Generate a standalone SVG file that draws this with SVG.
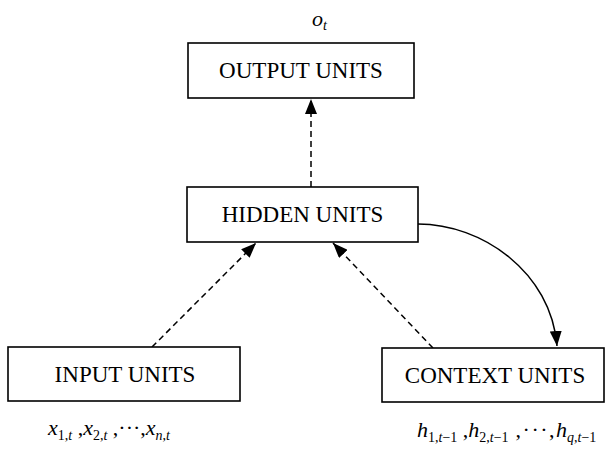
<svg xmlns="http://www.w3.org/2000/svg" width="607" height="458" viewBox="0 0 607 458">
<defs>
<style>
.box{fill:#fff;stroke:#000;stroke-width:1.6}
.lbl{font-family:"Liberation Serif","Times New Roman",serif;font-size:23px;fill:#000;text-anchor:middle}
.m{font-family:"Liberation Serif","Times New Roman",serif;font-size:22px;font-style:italic;fill:#000}
.s{font-size:14px;font-style:normal}
.si{font-size:14px;font-style:italic}
.up{font-style:normal}
.dash{fill:none;stroke:#000;stroke-width:1.5;stroke-dasharray:6 4}
.solid{fill:none;stroke:#000;stroke-width:1.5}
</style>
<marker id="ah" markerUnits="userSpaceOnUse" markerWidth="16" markerHeight="12" refX="15" refY="6" orient="auto">
<path d="M0,0 L15,6 L0,12 z" fill="#000"/>
</marker>
</defs>
<rect width="607" height="458" fill="#fff"/>
<g id="connectors">
<path class="dash" d="M311,187 L311,99" marker-end="url(#ah)"/>
<path class="dash" d="M152,347 L256,243" marker-end="url(#ah)"/>
<path class="dash" d="M433,348 L333,243" marker-end="url(#ah)"/>
<path class="solid" d="M418,224 C482,224 551,272 557,346" marker-end="url(#ah)"/>
</g>
<g id="output">
<rect class="box" x="188" y="43" width="226" height="55"/>
<text class="lbl" x="301" y="78">OUTPUT UNITS</text>
</g>
<g id="hidden">
<rect class="box" x="187" y="187" width="231" height="55"/>
<text class="lbl" x="302.5" y="222">HIDDEN UNITS</text>
</g>
<g id="input">
<rect class="box" x="8" y="347" width="232" height="54"/>
<text class="lbl" x="125" y="382">INPUT UNITS</text>
</g>
<g id="context">
<rect class="box" x="382" y="348" width="222" height="54"/>
<text class="lbl" x="495" y="383">CONTEXT UNITS</text>
</g>
<g id="labels">
<text class="m" x="312" y="26">o<tspan class="si" dy="4">t</tspan></text>
<text class="m" x="48" y="435">x<tspan class="s" dy="5">1,</tspan><tspan class="si">t</tspan><tspan class="up" dy="-5"> ,</tspan>x<tspan class="s" dy="5">2,</tspan><tspan class="si">t</tspan><tspan class="up" dy="-5"> ,···,</tspan>x<tspan class="si" dy="5">n</tspan><tspan class="s">,</tspan><tspan class="si">t</tspan></text>
<text class="m" x="417" y="437">h<tspan class="s" dy="5">1,</tspan><tspan class="si">t</tspan><tspan class="s">−1</tspan><tspan class="up" dy="-5"> ,</tspan>h<tspan class="s" dy="5">2,</tspan><tspan class="si">t</tspan><tspan class="s">−1</tspan><tspan class="up" dy="-5" letter-spacing="1.5"> ,···,</tspan>h<tspan class="si" dy="5">q</tspan><tspan class="s">,</tspan><tspan class="si">t</tspan><tspan class="s">−1</tspan></text>
</g>
</svg>
